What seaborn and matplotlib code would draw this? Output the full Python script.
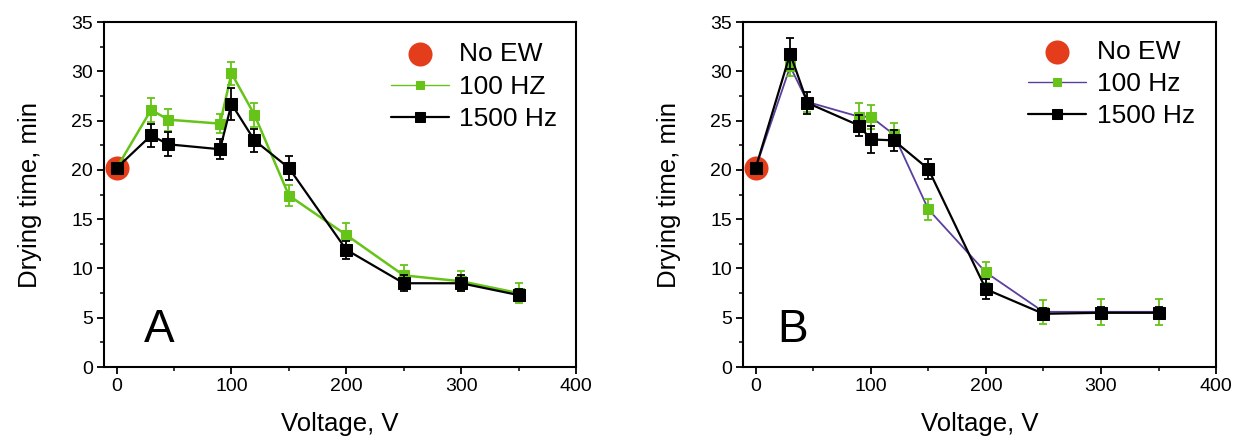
import numpy as np
import pandas as pd
import matplotlib
matplotlib.use("Agg")
import matplotlib.pyplot as plt
import seaborn as sns
from matplotlib.ticker import MultipleLocator

sns.set_theme(style="white")
plt.rcParams['font.family'] = ['Liberation Sans', 'DejaVu Sans']
plt.rcParams['text.color'] = 'black'
plt.rcParams['axes.labelcolor'] = 'black'
plt.rcParams['xtick.color'] = 'black'
plt.rcParams['ytick.color'] = 'black'

voltage = [0, 30, 45, 90, 100, 120, 150, 200, 250, 300, 350]

# Panel A
a_100 = [20.2, 26.1, 25.1, 24.7, 29.8, 25.6, 17.4, 13.4, 9.3, 8.7, 7.5]
a_100_err = [0, 1.2, 1.1, 1.0, 1.2, 1.2, 1.1, 1.2, 1.1, 1.0, 1.0]
a_1500 = [20.2, 23.5, 22.6, 22.1, 26.7, 23.0, 20.2, 11.9, 8.5, 8.5, 7.3]
a_1500_err = [0, 1.2, 1.2, 1.0, 1.6, 1.2, 1.2, 0.9, 0.8, 0.8, 0.6]

# Panel B
b_100 = [20.2, 30.5, 26.9, 25.4, 25.4, 23.6, 16.0, 9.6, 5.6, 5.6, 5.6]
b_100_err = [0, 1.0, 1.0, 1.4, 1.2, 1.2, 1.1, 1.1, 1.2, 1.3, 1.3]
b_1500 = [20.2, 31.8, 26.8, 24.5, 23.1, 23.0, 20.1, 7.9, 5.4, 5.5, 5.5]
b_1500_err = [0, 1.6, 1.1, 1.1, 1.4, 1.1, 1.0, 1.0, 0.6, 0.6, 0.6]

no_ew_x = [0]
no_ew_y = [20.2]

GREEN = "#66c418"
RED = "#e43d1c"
PURPLE = "#5b3f9e"

fig = plt.figure(figsize=(12.4, 4.41), dpi=100)
axA = fig.add_axes([0.0839, 0.1678, 0.3806, 0.782])
axB = fig.add_axes([0.5992, 0.1678, 0.3815, 0.782])

panels = [
    (axA, a_100, a_100_err, a_1500, a_1500_err, "100 HZ", GREEN, "A", 0.085, (1.0, 0.995)),
    (axB, b_100, b_100_err, b_1500, b_1500_err, "100 Hz", PURPLE, "B", 0.072, (0.994, 1.003)),
]

for ax, g, gerr, k, kerr, glabel, gline, letter, lx, lanchor in panels:
    df = pd.DataFrame({
        "Voltage": voltage * 2,
        "Time": g + k,
        "Series": [glabel] * len(voltage) + ["1500 Hz"] * len(voltage),
    })
    sns.scatterplot(x=no_ew_x, y=no_ew_y, ax=ax, color=RED, s=300,
                    edgecolor=RED, linewidth=0, zorder=2, label="No EW")
    sns.lineplot(data=df[df.Series == glabel], x="Voltage", y="Time", ax=ax,
                 color=gline, lw=1.3 if letter == "B" else 1.8, marker="s", markersize=7,
                 markerfacecolor=GREEN, markeredgecolor=GREEN, zorder=3, label=glabel)
    ax.errorbar(voltage[1:], g[1:], yerr=gerr[1:], fmt="none", ecolor=GREEN,
                elinewidth=1.3, capsize=3, capthick=1.3, zorder=3)
    sns.lineplot(data=df[df.Series == "1500 Hz"], x="Voltage", y="Time", ax=ax,
                 color="black", lw=1.6, marker="s", markersize=9,
                 markerfacecolor="black", markeredgecolor="black", zorder=4,
                 label="1500 Hz")
    ax.errorbar(voltage[1:], k[1:], yerr=kerr[1:], fmt="none", ecolor="black",
                elinewidth=1.3, capsize=3, capthick=1.3, zorder=4)

    ax.set_xlim(-11, 400)
    ax.set_ylim(0, 35)
    ax.xaxis.set_major_locator(MultipleLocator(100))
    ax.xaxis.set_minor_locator(MultipleLocator(50))
    ax.yaxis.set_major_locator(MultipleLocator(5))
    ax.yaxis.set_minor_locator(MultipleLocator(2.5))
    ax.tick_params(axis="both", which="major", direction="out", length=5, width=1.3,
                   labelsize=14, bottom=True, left=True, pad=3, colors="black")
    ax.tick_params(axis="both", which="minor", direction="out", length=3, width=1.1,
                   bottom=True, left=True)
    for s in ax.spines.values():
        s.set_visible(True)
        s.set_color("black")
        s.set_linewidth(1.5)
    ax.set_xlabel("Voltage, V", fontsize=18.5, labelpad=12)
    ax.set_ylabel("Drying time, min", fontsize=18.5, labelpad=21)
    ax.text(lx, 0.072, letter, transform=ax.transAxes, fontsize=33, ha="left",
            va="baseline", color="black")

    h, l = ax.get_legend_handles_labels()
    leg = ax.legend(h, l, loc="upper right", frameon=False, fontsize=19,
                    handlelength=2.2, handletextpad=0.4, labelspacing=0.32,
                    borderaxespad=0.3, bbox_to_anchor=lanchor)
    for line in leg.get_lines():
        if line.get_label() == glabel:
            line.set_linewidth(1.0)
            line.set_markersize(6)
        elif line.get_label() == "1500 Hz":
            line.set_linewidth(1.6)
            line.set_markersize(7)

fig.savefig("out.png", dpi=100)
